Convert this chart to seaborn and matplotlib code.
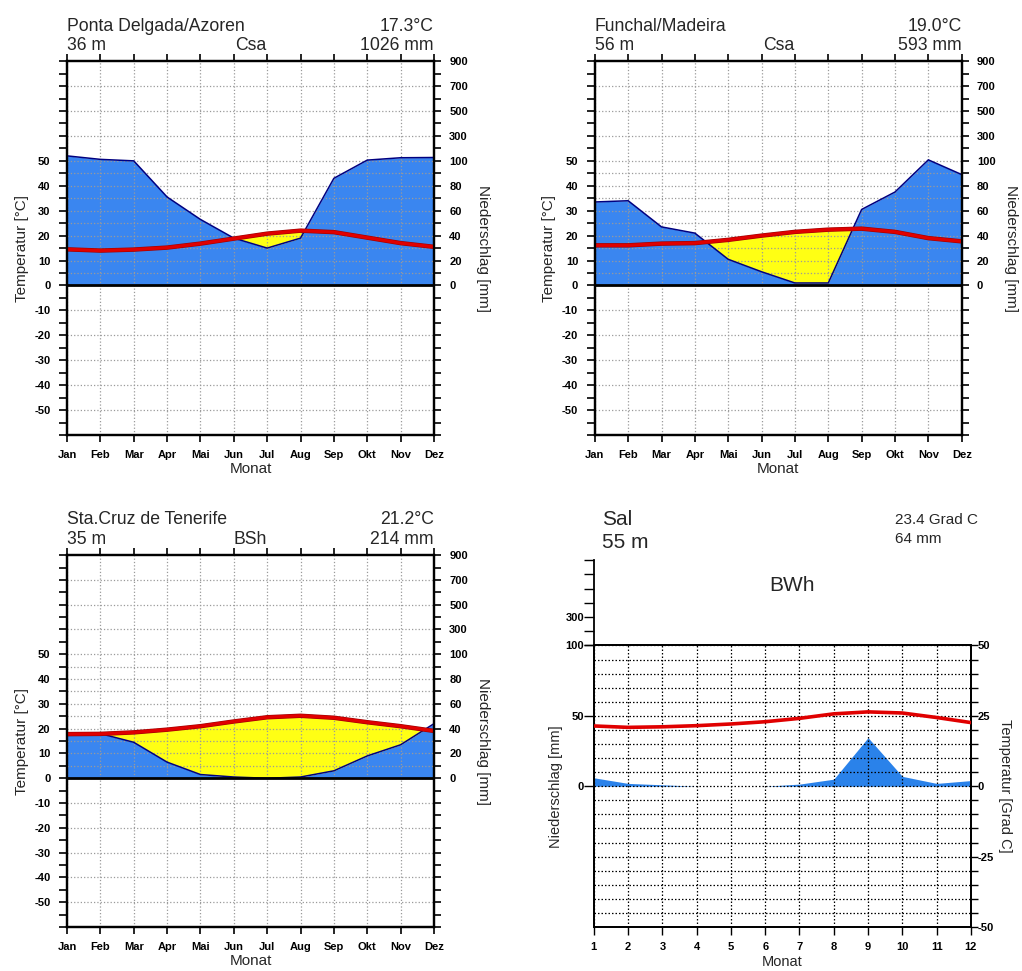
import numpy as np
import pandas as pd
import seaborn as sns
import matplotlib.pyplot as plt
import matplotlib.patheffects as pe

sns.set_theme(style="white")
plt.rcParams['font.family'] = ['Liberation Sans', 'DejaVu Sans']
plt.rcParams['axes.edgecolor'] = 'black'

# Monatsnamen
monate = ['Jan', 'Feb', 'Mar', 'Apr', 'Mai', 'Jun', 'Jul', 'Aug', 'Sep', 'Okt', 'Nov', 'Dez']

# Ponta Delgada / Azoren
pdl_temp = [14.5, 14.0, 14.4, 15.2, 16.8, 18.8, 20.8, 22.0, 21.4, 19.2, 17.0, 15.5]
pdl_prec = [140, 112, 100, 71, 53, 38, 30, 38, 86, 106, 125, 127]

# Funchal / Madeira
fun_temp = [16.1, 16.1, 16.8, 17.0, 18.3, 20.0, 21.5, 22.4, 22.8, 21.5, 19.0, 17.7]
fun_prec = [67, 68, 47, 42, 21, 11, 2, 2, 61, 75, 108, 89]

# Santa Cruz de Tenerife
ten_temp = [17.8, 17.9, 18.5, 19.6, 21.0, 22.9, 24.6, 25.2, 24.4, 22.6, 21.0, 19.1]
ten_prec = [36, 36, 29, 13, 3, 1, 0, 1, 6, 18, 27, 44]

# Sal / Kapverden
sal_monate = [1, 2, 3, 4, 5, 6, 7, 8, 9, 10, 11, 12]
sal_temp = [21.4, 20.9, 21.1, 21.5, 22.1, 22.9, 24.1, 25.7, 26.4, 26.0, 24.4, 22.6]
sal_prec = [6, 2, 1, 0, 0, 0, 1.5, 5, 34.5, 7, 2, 4]

# Achsenbeschriftung Niederschlag (rechts)
niederschlag_ticks = [0, 20, 40, 60, 80, 100, 300, 500, 700, 900]
sal_oben_ticks = [100, 200, 300, 400, 500, 600, 700]
sal_oben_labels = ['', '', '300', '', '', '', '']

BLAU = '#3a86f0'
GELB = '#ffff14'
ROT = '#e00000'


def skalieren(p):
    # bis 100 mm: 20 mm = 10 Grad, darueber 200 mm = 10 Grad
    p = np.asarray(p, dtype=float)
    return np.where(p <= 100, p / 2, 50 + (p - 100) / 20)


def klimadiagramm(ax, name, hoehe, klasse, t_txt, p_txt, temp, prec, ty1, ty2):
    x = np.arange(12)
    t = np.array(temp, dtype=float)
    p = skalieren(prec)
    df = pd.DataFrame({'monat': x, 'temp': t, 'prec': p})

    ax.fill_between(x, 0, p, color=BLAU, lw=0, zorder=1)
    ax.fill_between(x, p, t, where=t > p, interpolate=True, color=GELB, lw=0, zorder=1)
    sns.lineplot(data=df, x='monat', y='prec', ax=ax, color='#000080', lw=1.1, zorder=2.6)
    sns.lineplot(data=df, x='monat', y='temp', ax=ax, color=ROT, lw=2.3, zorder=3,
                 path_effects=[pe.Stroke(linewidth=3.2, foreground='#a00000'), pe.Normal()])
    ax.axhline(0, color='black', lw=2, zorder=3.5)

    ax.set_xlim(0, 11)
    ax.set_ylim(-60, 90)
    ax.set_xticks(x, labels=monate)

    links_major = np.r_[np.arange(-50, 0, 10), np.arange(0, 51, 5), [60, 70, 80]]
    links_minor = np.setdiff1d(np.arange(-60, 91, 5), links_major)
    ax.set_yticks(links_major, labels=[str(int(v)) if v % 10 == 0 and abs(v) <= 50 else ''
                                       for v in links_major])
    ax.set_yticks(links_minor, minor=True)
    ax.grid(True, which='major', color='#9a9a9a', ls=':', lw=0.9)
    ax.set_axisbelow(False)
    ax.tick_params(axis='y', which='both', direction='out', length=6, width=1.2,
                   left=True, labelsize=8, pad=6, colors='black')
    ax.tick_params(axis='x', direction='out', length=5, width=1.2, top=True, bottom=True,
                   labelsize=8, pad=6, colors='black')

    ax2 = ax.twinx()
    ax2.set_ylim(-60, 90)
    rechts_pos = skalieren(niederschlag_ticks)
    ax2.set_yticks(rechts_pos, labels=[str(v) for v in niederschlag_ticks])
    ax2.set_yticks(np.setdiff1d(np.arange(-60, 91, 5), rechts_pos), minor=True)
    ax2.tick_params(axis='y', which='both', direction='out', length=5, width=1.2,
                    right=True, labelsize=8, pad=6, colors='black')
    ax2.grid(False)

    for a in (ax, ax2):
        for s in a.spines.values():
            s.set_linewidth(1.6)
            s.set_color('black')
    for lbl in ax.get_xticklabels() + ax.get_yticklabels() + ax2.get_yticklabels():
        lbl.set_fontweight('bold')

    ax.set_xlabel('Monat', fontsize=11, labelpad=1)
    ax.set_ylabel('Temperatur [°C]', fontsize=11, labelpad=4)
    ax2.set_ylabel('Niederschlag [mm]', fontsize=11, rotation=270, va='bottom', labelpad=6)

    ax.text(0, ty1, name, transform=ax.transAxes, fontsize=12.7, ha='left', va='baseline')
    ax.text(1, ty1, t_txt, transform=ax.transAxes, fontsize=12.7, ha='right', va='baseline')
    ax.text(0, ty2, hoehe, transform=ax.transAxes, fontsize=12.7, ha='left', va='baseline')
    ax.text(0.5, ty2, klasse, transform=ax.transAxes, fontsize=12.7, ha='center', va='baseline')
    ax.text(1, ty2, p_txt, transform=ax.transAxes, fontsize=12.7, ha='right', va='baseline')


fig = plt.figure(figsize=(10.22, 9.71), dpi=100)

ax_pdl = fig.add_axes([0.0656, 0.552, 0.359, 0.385])
klimadiagramm(ax_pdl, 'Ponta Delgada/Azoren', '36 m', 'Csa', '17.3°C', '1026 mm',
              pdl_temp, pdl_prec, 1.081, 1.029)

ax_fun = fig.add_axes([0.582, 0.552, 0.359, 0.385])
klimadiagramm(ax_fun, 'Funchal/Madeira', '56 m', 'Csa', '19.0°C', '593 mm',
              fun_temp, fun_prec, 1.081, 1.029)

ax_ten = fig.add_axes([0.0656, 0.0453, 0.359, 0.383])
klimadiagramm(ax_ten, 'Sta.Cruz de Tenerife', '35 m', 'BSh', '21.2°C', '214 mm',
              ten_temp, ten_prec, 1.085, 1.031)

# Sal: anderer Diagrammtyp
ax_sal = fig.add_axes([0.581, 0.0453, 0.369, 0.290])
sal_df = pd.DataFrame({'monat': sal_monate, 'temp': sal_temp, 'prec': sal_prec})
ax_sal.fill_between(sal_df['monat'], 0, sal_df['prec'], color='#2a82ea', lw=0, zorder=1)
ax_sal.set_xlim(1, 12)
ax_sal.set_ylim(-100, 100)
ax_sal.set_xticks(sal_monate, labels=[str(m) for m in sal_monate])
ax_sal.set_yticks([0, 50, 100], labels=['0', '50', '100'])
ax_sal.grid(True, axis='x', color='black', ls=(0, (1.2, 1.6)), lw=0.9)
ax_sal.set_axisbelow(False)
ax_sal.tick_params(axis='y', direction='out', length=7, width=1, left=True,
                   labelsize=8, pad=0, colors='black')
ax_sal.tick_params(axis='x', direction='out', length=6, width=1, bottom=True,
                   labelsize=8, pad=5, colors='black')
ax_sal.set_xlabel('Monat', fontsize=10.5, labelpad=2)
ax_sal.set_ylabel('Niederschlag [mm]', fontsize=10.5, labelpad=2)

ax_sal2 = ax_sal.twinx()
sns.lineplot(data=sal_df, x='monat', y='temp', ax=ax_sal2, color=ROT, lw=2.6, zorder=3)
ax_sal2.set_ylim(-50, 50)
ax_sal2.set_yticks([-50, -25, 0, 25, 50], labels=['-50', '-25', '0', '25', '50'])
ax_sal2.set_yticks(np.setdiff1d(np.arange(-50, 51, 5), [-50, -25, 0, 25, 50]), minor=True)
ax_sal2.grid(True, which='both', axis='y', color='black', ls=(0, (1.2, 1.6)), lw=0.9)
ax_sal2.tick_params(axis='y', which='both', direction='out', length=5, width=1, right=True,
                    labelsize=8, pad=0, colors='black')
ax_sal2.set_ylabel('Temperatur [Grad C]', fontsize=10.5, rotation=270, va='bottom', labelpad=3)
for a in (ax_sal, ax_sal2):
    for s in a.spines.values():
        s.set_linewidth(1.3)
        s.set_color('black')
for lbl in ax_sal.get_xticklabels() + ax_sal.get_yticklabels() + ax_sal2.get_yticklabels():
    lbl.set_fontweight('bold')

# oberer Teil der Niederschlagsachse
ax_top = fig.add_axes([0.581, 0.3355, 0.369, 0.0875])
ax_top.patch.set_visible(False)
for k in ('top', 'right', 'bottom'):
    ax_top.spines[k].set_visible(False)
ax_top.spines['left'].set_linewidth(1.3)
ax_top.set_ylim(100, 700)
ax_top.set_xticks([])
ax_top.set_yticks(sal_oben_ticks, labels=sal_oben_labels)
ax_top.tick_params(axis='y', direction='out', length=7, width=1, left=True,
                   labelsize=8, pad=0, colors='black')
for lbl in ax_top.get_yticklabels():
    lbl.set_fontweight('bold')

fig.text(0.589, 0.4593, 'Sal', fontsize=15, ha='left', va='baseline')
fig.text(0.589, 0.4356, '55 m', fontsize=15, ha='left', va='baseline')
fig.text(0.8757, 0.460, '23.4 Grad C', fontsize=11, ha='left', va='baseline')
fig.text(0.8757, 0.4408, '64 mm', fontsize=11, ha='left', va='baseline')
fig.text(0.775, 0.3917, 'BWh', fontsize=15, ha='center', va='baseline')

fig.savefig('out.png', dpi=100)
